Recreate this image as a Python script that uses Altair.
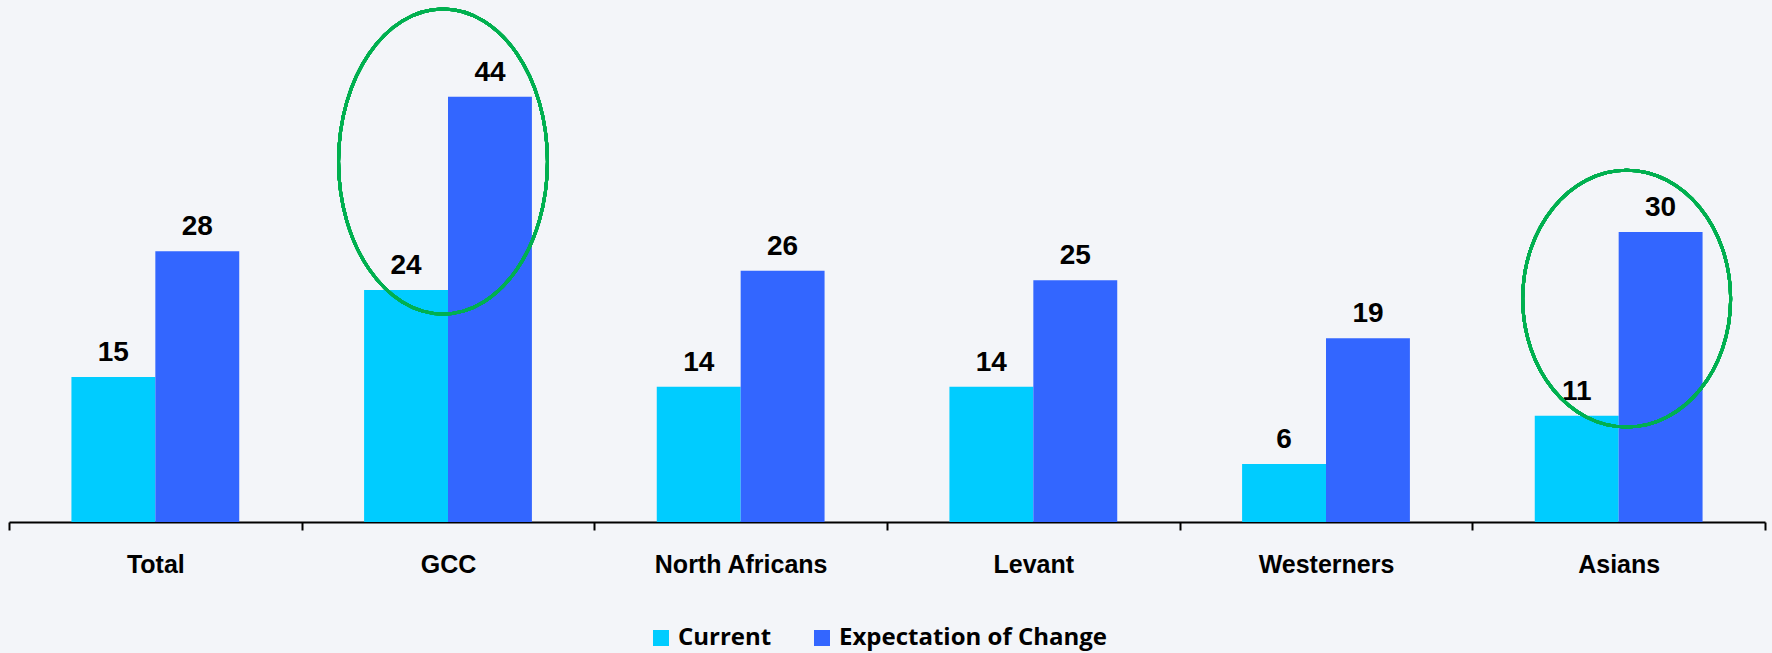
import altair as alt
import pandas as pd

categories = ["Total", "GCC", "North Africans", "Levant", "Westerners", "Asians"]
series = ["Current", "Expectation of Change"]
current = [15, 24, 14, 14, 6, 11]
expectation = [28, 44, 26, 25, 19, 30]
colors = ["#00CCFF", "#3366FF"]

rows = []
for c, a, b in zip(categories, current, expectation):
    rows.append({"cat": c, "series": series[0], "value": a})
    rows.append({"cat": c, "series": series[1], "value": b})
df = pd.DataFrame(rows)

x_enc = alt.X(
    "cat:N",
    sort=categories,
    scale=alt.Scale(paddingInner=0, paddingOuter=0),
    axis=alt.Axis(
        title=None,
        labelAngle=0,
        tickBand="extent",
        domainColor="black",
        domainWidth=2,
        tickColor="black",
        tickWidth=2,
        tickSize=8,
        labelFont="Liberation Sans",
        labelFontWeight="bold",
        labelFontSize=25,
        labelColor="black",
        labelPadding=22,
    ),
)
xoff = alt.XOffset("series:N", sort=series, scale=alt.Scale(paddingOuter=0.744, paddingInner=0))
y_enc = alt.Y("value:Q", scale=alt.Scale(domain=[0, 48], nice=False), axis=None)

bars = alt.Chart(df).mark_bar().encode(
    x=x_enc,
    xOffset=xoff,
    y=y_enc,
    color=alt.Color(
        "series:N",
        sort=series,
        scale=alt.Scale(domain=series, range=colors),
        legend=alt.Legend(
            title=None,
            orient="none",
            direction="horizontal",
            legendX=640,
            legendY=568,
            symbolType="square",
            symbolSize=256,
            symbolStrokeWidth=0,
            symbolOpacity=1,
            labelFont="Open Sans",
            labelFontWeight="bold",
            labelFontSize=24,
            labelColor="black",
            labelOffset=5,
            labelLimit=500,
            columnPadding=38,
            padding=0,
        ),
    ),
)

labels = alt.Chart(df).mark_text(
    baseline="alphabetic", dy=-16, font="Liberation Sans", fontWeight="bold", fontSize=28, color="black"
).encode(x=alt.X("cat:N", sort=categories), xOffset=alt.XOffset("series:N", sort=series), y="value:Q", text="value:Q")

gcc_ring = alt.Chart(df).mark_point(
    shape="M0,-1 A0.685,1 0 1,1 0,1 A0.685,1 0 1,1 0,-1 Z",
    size=93025, filled=False, stroke="#00B050", strokeWidth=3, opacity=1, xOffset=-5,
).encode(x=alt.X(datum="GCC", type="nominal"), y=alt.Y(datum=37.3, type="quantitative"))

asia_ring = alt.Chart(df).mark_point(
    shape="M0,-1 A0.81,1 0 1,1 0,1 A0.81,1 0 1,1 0,-1 Z",
    size=65900, filled=False, stroke="#00B050", strokeWidth=3, opacity=1, xOffset=8,
).encode(x=alt.X(datum="Asians", type="nominal"), y=alt.Y(datum=23.1, type="quantitative"))

chart = alt.layer(bars, labels, gcc_ring, asia_ring).properties(
    width=1756,
    height=464,
    autosize=alt.AutoSizeParams(type="none"),
    padding={"left": 9, "top": 58, "right": 7, "bottom": 131},
    background="#F3F5F9",
).configure_view(stroke=None)

chart.save("out.html", embed_options={"renderer": "svg", "actions": False})
